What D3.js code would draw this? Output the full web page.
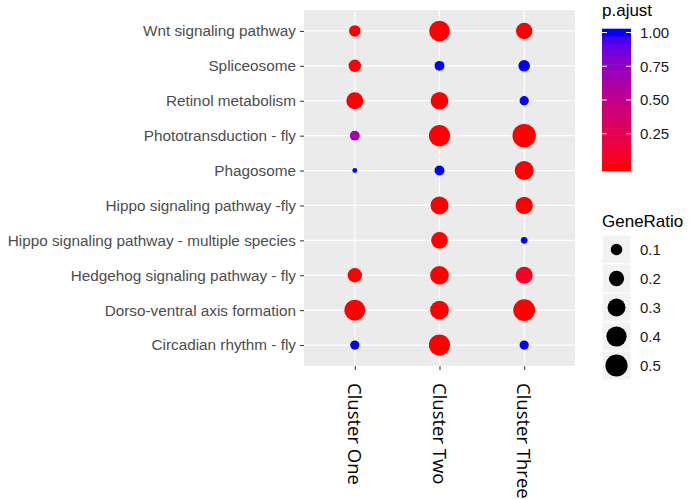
<!DOCTYPE html>
<html>
<head>
<meta charset="utf-8">
<script src="https://cdn.jsdelivr.net/npm/d3@7"></script>
<style>
    body { margin: 0; background: #fff; }
    text { font-family: "Liberation Sans", Arial, sans-serif; }
</style>
</head>
<body>
<div id="chart"></div>
<script>
// pathways, top to bottom
var pathways = ["Wnt signaling pathway", "Spliceosome", "Retinol metabolism", "Phototransduction - fly",
    "Phagosome", "Hippo signaling pathway -fly", "Hippo signaling pathway - multiple species",
    "Hedgehog signaling pathway - fly", "Dorso-ventral axis formation", "Circadian rhythm - fly"]
var clusters = ["Cluster One", "Cluster Two", "Cluster Three"]

// GeneRatio per cluster (null = no dot)
var ratioOne = [0.10, 0.12, 0.26, 0.07, 0.03, null, null, 0.17, 0.44, 0.06]
var ratioTwo = [0.42, 0.07, 0.29, 0.45, 0.07, 0.30, 0.25, 0.33, 0.33, 0.45]
var ratioThree = [0.24, 0.10, 0.06, 0.57, 0.34, 0.27, 0.035, 0.26, 0.48, 0.06]

// p.ajust per cluster
var padjOne = [0.002, 0.003, 0.001, 0.65, 1.0, null, null, 0.004, 0.0001, 1.0]
var padjTwo = [0.0005, 1.0, 0.006, 0.0002, 1.0, 0.001, 0.003, 0.0008, 0.0006, 0.0001]
var padjThree = [0.004, 1.0, 1.0, 0.00005, 0.001, 0.002, 1.0, 0.08, 0.0003, 1.0]

var colorTicks = [0.25, 0.50, 0.75, 1.00]
var sizeTicks = [0.1, 0.2, 0.3, 0.4, 0.5]

var ratios = [ratioOne, ratioTwo, ratioThree]
var padjs = [padjOne, padjTwo, padjThree]
var points = []
for (var c = 0; c < clusters.length; c++) {
    for (var i = 0; i < pathways.length; i++) {
        if (ratios[c][i] == null) continue
        points.push({cluster: clusters[c], pathway: pathways[i], ratio: ratios[c][i], padj: padjs[c][i]})
    }
}

var width = 692, height = 500
var panel = {left: 304, right: 575, top: 10, bottom: 366}

var svg = d3.select("#chart").append("svg").attr("width", width).attr("height", height)

var x = d3.scalePoint().domain(clusters).range([panel.left, panel.right]).padding(0.6)
var y = d3.scalePoint().domain(pathways).range([panel.top, panel.bottom]).padding(0.6)

var padjExtent = d3.extent(points, function (d) { return d.padj })
var color = d3.scaleLinear().domain(padjExtent).range(["red", "blue"]).interpolate(d3.interpolateLab)

// ggplot style area scale: rescale then sqrt
var ratioExtent = d3.extent(points, function (d) { return d.ratio })
var norm = d3.scaleLinear().domain(ratioExtent).range([0, 1]).clamp(true)
var diam = d3.scaleSqrt().domain([0, 1]).range([4.9, 23.4])
function radius(v) { return diam(norm(v)) / 2 }

// panel
svg.append("rect").attr("x", panel.left).attr("y", panel.top)
    .attr("width", panel.right - panel.left).attr("height", panel.bottom - panel.top)
    .attr("fill", "#ebebeb")

var grid = svg.append("g").attr("stroke", "#fff").attr("stroke-width", 1.2)
grid.selectAll(".gy").data(pathways).enter().append("line")
    .attr("x1", panel.left).attr("x2", panel.right)
    .attr("y1", function (d) { return y(d) }).attr("y2", function (d) { return y(d) })
grid.selectAll(".gx").data(clusters).enter().append("line")
    .attr("y1", panel.top).attr("y2", panel.bottom)
    .attr("x1", function (d) { return x(d) }).attr("x2", function (d) { return x(d) })

// axes
var yAxis = svg.append("g").attr("transform", "translate(" + panel.left + ",0)")
    .call(d3.axisLeft(y).tickSize(4).tickPadding(4))
yAxis.select(".domain").remove()
yAxis.selectAll("line").attr("stroke", "#333")
yAxis.selectAll("text").attr("fill", "#4d4d4d").style("font-size", "15.3px")
    .style("font-family", '"Liberation Sans", Arial, sans-serif')

var xAxis = svg.append("g").attr("transform", "translate(0," + panel.bottom + ")")
    .call(d3.axisBottom(x).tickSize(4).tickPadding(0))
xAxis.select(".domain").remove()
xAxis.selectAll("line").attr("stroke", "#333")
xAxis.selectAll("text")
    .attr("fill", "#000")
    .style("font-size", "18.5px")
    .style("font-family", '"Open Sans", sans-serif')
    .style("font-weight", "500")
    .attr("text-anchor", "start")
    .attr("dy", null)
    .attr("y", 0)
    .attr("dominant-baseline", "central")
    .attr("transform", "translate(0,17) rotate(90)")

// dots
svg.append("g").selectAll("circle").data(points).enter().append("circle")
    .attr("cx", function (d) { return x(d.cluster) })
    .attr("cy", function (d) { return y(d.pathway) })
    .attr("r", function (d) { return radius(d.ratio) })
    .attr("fill", function (d) { return color(d.padj) })

// colour legend
var legend = svg.append("g")
legend.append("text").attr("x", 602).attr("y", 16).style("font-size", "17px").text("p.ajust")

var barX = 602, barW = 29, barTop = 29, barBottom = 171
var nbin = 20, binH = (barBottom - barTop) / nbin
var barScale = d3.scaleLinear().domain(padjExtent).range([barBottom - binH / 2, barTop + binH / 2])
var bins = d3.range(nbin).map(function (i) {
    return padjExtent[0] + (padjExtent[1] - padjExtent[0]) * i / (nbin - 1)
})
legend.selectAll(".bin").data(bins).enter().append("rect")
    .attr("x", barX).attr("width", barW)
    .attr("y", function (d) { return barScale(d) - binH / 2 - 0.3 })
    .attr("height", binH + 0.6)
    .attr("fill", function (d) { return color(d) })
legend.selectAll(".tl").data(colorTicks).enter().append("line")
    .attr("x1", barX).attr("x2", barX + 5)
    .attr("y1", function (d) { return barScale(d) }).attr("y2", function (d) { return barScale(d) })
    .attr("stroke", "#fff")
legend.selectAll(".tr").data(colorTicks).enter().append("line")
    .attr("x1", barX + barW - 5).attr("x2", barX + barW)
    .attr("y1", function (d) { return barScale(d) }).attr("y2", function (d) { return barScale(d) })
    .attr("stroke", "#fff")
legend.selectAll(".cl").data(colorTicks).enter().append("text")
    .attr("x", 640).attr("y", function (d) { return barScale(d) })
    .attr("dy", "0.36em").style("font-size", "15px").attr("fill", "#1a1a1a")
    .text(function (d) { return d3.format(".2f")(d) })

// size legend
legend.append("text").attr("x", 602).attr("y", 227).style("font-size", "17px").text("GeneRatio")
var keyTop = 235, keyH = 29
legend.selectAll(".key").data(sizeTicks).enter().append("rect")
    .attr("x", 602).attr("width", 29)
    .attr("y", function (d, i) { return keyTop + i * keyH }).attr("height", keyH)
    .attr("fill", "#f2f2f2").attr("stroke", "#fff")
legend.selectAll(".kd").data(sizeTicks).enter().append("circle")
    .attr("cx", 616.5)
    .attr("cy", function (d, i) { return keyTop + i * keyH + keyH / 2 })
    .attr("r", function (d) { return radius(d) })
    .attr("fill", "#000")
legend.selectAll(".kl").data(sizeTicks).enter().append("text")
    .attr("x", 640).attr("y", function (d, i) { return keyTop + i * keyH + keyH / 2 })
    .attr("dy", "0.36em").style("font-size", "15px").attr("fill", "#1a1a1a")
    .text(function (d) { return d3.format(".1f")(d) })
</script>
</body>
</html>
